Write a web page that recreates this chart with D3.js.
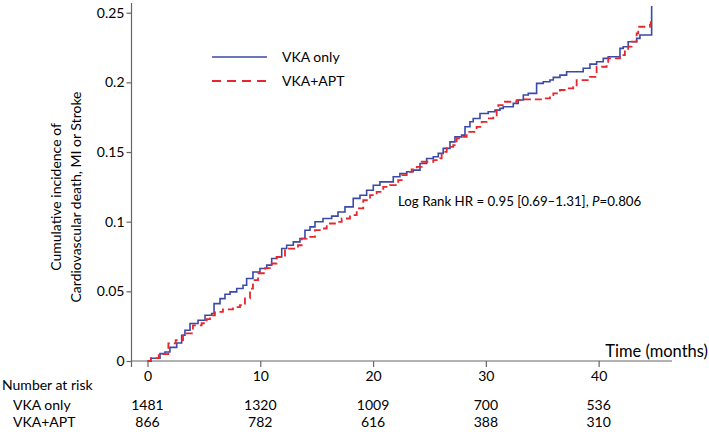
<!DOCTYPE html>
<html><head><meta charset="utf-8">
<script src="https://cdn.jsdelivr.net/npm/d3@7"></script>
<style>body{margin:0;background:#fff}svg{display:block}text{font-family:Lato,"Open Sans",sans-serif;fill:#000}</style>
</head><body>
<svg id="c" width="709" height="432"></svg>
<script>
// Kaplan-Meier style cumulative incidence, [time (months), value] step points
const vkaOnly = [[0,0],[0.3,0.002],[1.11,0.0053],[1.55,0.0065],[1.99,0.0098],[2.59,0.0129],[3.03,0.0185],[3.32,0.0221],[3.77,0.0269],[4.48,0.0292],[5.10,0.0328],[5.69,0.0341],[5.90,0.0412],[6.43,0.0448],[6.87,0.0479],[7.32,0.0496],[7.91,0.0520],[8.47,0.0544],[8.79,0.0592],[9.35,0.0639],[9.97,0.0664],[10.57,0.0688],[11.01,0.0736],[11.45,0.0747],[11.90,0.0807],[12.34,0.0831],[12.93,0.0855],[13.52,0.0879],[13.96,0.0939],[14.41,0.0963],[14.85,0.0999],[15.56,0.1023],[16.33,0.1040],[16.89,0.1070],[17.51,0.1106],[18.24,0.1167],[18.84,0.1190],[19.43,0.1226],[20.02,0.1262],[20.61,0.1286],[21.79,0.1322],[22.38,0.1346],[22.98,0.1358],[23.56,0.1370],[24.16,0.1418],[24.75,0.1454],[25.34,0.1466],[25.78,0.1490],[26.22,0.1526],[26.82,0.1573],[27.26,0.1609],[27.85,0.1621],[28.15,0.1681],[28.59,0.1717],[28.88,0.1741],[29.48,0.1777],[30.21,0.1789],[30.81,0.1801],[31.25,0.1813],[31.54,0.1825],[32.43,0.1849],[32.87,0.1873],[33.32,0.1909],[33.76,0.1921],[34.50,0.1993],[35.09,0.2004],[35.68,0.2017],[35.98,0.2036],[36.57,0.2052],[37.16,0.2076],[38.63,0.2101],[39.23,0.2131],[39.82,0.2148],[40.41,0.2172],[40.85,0.2184],[41.89,0.2244],[42.18,0.2256],[42.62,0.2292],[43.37,0.2316],[43.66,0.2340],[44.70,0.2340],[44.70,0.2548]];
const vkaApt = [[0,0],[0.3,0.002],[1.0,0.005],[1.85,0.0056],[1.85,0.0127],[2.5,0.015],[3.15,0.0199],[4.03,0.0256],[4.80,0.0271],[5.25,0.0300],[5.54,0.0328],[5.98,0.0352],[6.69,0.0371],[7.58,0.0386],[8.20,0.0400],[8.64,0.0450],[9.09,0.0520],[9.35,0.0580],[9.80,0.0630],[10.42,0.0666],[11.01,0.0700],[11.45,0.0747],[12.19,0.0807],[13.34,0.0831],[13.67,0.0879],[14.11,0.0891],[14.85,0.0939],[15.44,0.0951],[15.89,0.0987],[16.62,0.0999],[17.22,0.1023],[17.95,0.1047],[18.55,0.1095],[19.13,0.1154],[19.73,0.1190],[20.32,0.1214],[20.90,0.1250],[21.50,0.1262],[22.23,0.1298],[22.54,0.1334],[22.98,0.1358],[23.42,0.1375],[23.87,0.1394],[24.31,0.1430],[25.34,0.1442],[25.93,0.1454],[26.08,0.1501],[26.53,0.1537],[27.11,0.1550],[27.41,0.1598],[28.00,0.1609],[28.30,0.1645],[29.18,0.1681],[29.63,0.1717],[30.07,0.1741],[30.66,0.1753],[30.96,0.1801],[31.10,0.1837],[31.69,0.1861],[32.73,0.1873],[33.17,0.1878],[35.09,0.1885],[35.68,0.1909],[35.98,0.1921],[36.57,0.1945],[37.16,0.1957],[37.75,0.1968],[38.05,0.2016],[39.23,0.2040],[39.82,0.2112],[40.71,0.2124],[40.85,0.2172],[41.89,0.2196],[42.33,0.2232],[42.62,0.2256],[42.92,0.2292],[43.37,0.2352],[43.51,0.2399],[44.55,0.2412],[44.62,0.2412],[44.62,0.2470]];
const seriesNames = ["VKA only", "VKA+APT"];
const xTicks = [0, 10, 20, 30, 40];
const yTicks = [0, 0.05, 0.1, 0.15, 0.2, 0.25];
const yTickLabels = ["0", "0.05", "0.1", "0.15", "0.2", "0.25"];
const riskVkaOnly = [1481, 1320, 1009, 700, 536];
const riskVkaApt = [866, 782, 616, 388, 310];
const statText = "Log Rank HR = 0.95 [0.69\u20131.31], ";

const svg = d3.select("#c");
const x = d3.scaleLinear().domain([0, 46.15]).range([147.5, 668]);
const y = d3.scaleLinear().domain([0, 0.25]).range([361, 12.7]);
const axisColor = "#666666";
const blue = "#3a4aa6", red = "#e8262d";

// y axis
const yAxis = svg.append("g").attr("transform", "translate(131.5,0)")
  .call(d3.axisLeft(y).tickValues(yTicks).tickFormat((d,i)=>yTickLabels[i]).tickSize(5).tickSizeOuter(0));
yAxis.select(".domain").remove();
yAxis.append("line").attr("x1",0).attr("x2",0).attr("y1",3).attr("y2",y(0)).attr("stroke",axisColor).attr("stroke-width",1.2);
yAxis.selectAll(".tick line").attr("stroke",axisColor).attr("stroke-width",1.2);
yAxis.selectAll(".tick text").attr("x",-7).style("font-size","14px").style("font-family","Lato").attr("fill","#000");

// x axis
const xAxis = svg.append("g").attr("transform", `translate(0,${y(0)})`)
  .call(d3.axisBottom(x).tickValues(xTicks).tickFormat(d3.format("d")).tickSize(6).tickSizeOuter(0));
xAxis.select(".domain").remove();
xAxis.append("line").attr("x1",131.5).attr("x2",672).attr("y1",0).attr("y2",0).attr("stroke",axisColor).attr("stroke-width",1.2);
xAxis.append("line").attr("x1",131.5).attr("x2",131.5).attr("y1",0).attr("y2",6).attr("stroke",axisColor).attr("stroke-width",1.2);
xAxis.selectAll(".tick line").attr("stroke",axisColor).attr("stroke-width",1.2);
xAxis.selectAll(".tick text").attr("y",10).style("font-size","14px").style("font-family","Lato").attr("fill","#000");

// curves
const line = d3.line().x(d=>x(d[0])).y(d=>y(d[1])).curve(d3.curveStepAfter);
svg.append("path").datum(vkaOnly).attr("d",line).attr("fill","none").attr("stroke",blue).attr("stroke-width",1.6);
svg.append("path").datum(vkaApt).attr("d",line).attr("fill","none").attr("stroke",red).attr("stroke-width",1.8).attr("stroke-dasharray","7,4");

// legend
const lg = svg.append("g");
lg.append("line").attr("x1",212).attr("x2",267).attr("y1",57).attr("y2",57).attr("stroke",blue).attr("stroke-width",1.6);
lg.append("line").attr("x1",212).attr("x2",267).attr("y1",81).attr("y2",81).attr("stroke",red).attr("stroke-width",2).attr("stroke-dasharray","9,6");
lg.append("text").attr("x",282).attr("y",57).attr("dy","0.35em").style("font-size","14px").text(seriesNames[0]);
lg.append("text").attr("x",282).attr("y",81).attr("dy","0.35em").style("font-size","14px").text(seriesNames[1]);

// stat annotation
const st = svg.append("text").attr("x",398).attr("y",201).attr("dy","0.35em").style("font-size","13.3px");
st.append("tspan").text(statText);
st.append("tspan").style("font-style","italic").text("P");
st.append("tspan").text("=0.806");

// axis titles
const yt = svg.append("text").attr("transform","translate(64,197) rotate(-90)").attr("text-anchor","middle").style("font-size","14px");
yt.append("tspan").attr("x",0).attr("dy","-0.25em").text("Cumulative incidence of");
yt.append("tspan").attr("x",0).attr("dy","1.45em").text("Cardiovascular death, MI or Stroke");
svg.append("text").attr("x",708).attr("y",351).attr("dy","0.35em").attr("text-anchor","end").style("font-size","16.5px").text("Time (months)");

// risk table
svg.append("text").attr("x",2).attr("y",385).attr("dy","0.35em").style("font-size","14px").text("Number at risk");
const rows = [[seriesNames[0], riskVkaOnly, 405],[seriesNames[1], riskVkaApt, 422]];
rows.forEach(([name, vals, yy])=>{
  svg.append("text").attr("x",13).attr("y",yy).attr("dy","0.35em").style("font-size","14px").text(name);
  svg.selectAll(null).data(vals).enter().append("text")
    .attr("x",(d,i)=>x(xTicks[i])).attr("y",yy).attr("dy","0.35em").attr("text-anchor","middle")
    .style("font-size","14px").text(d=>d);
});
</script>
</body></html>
